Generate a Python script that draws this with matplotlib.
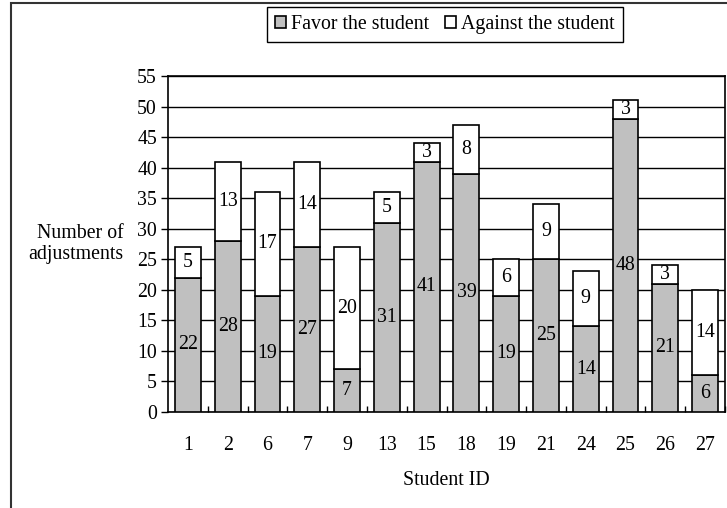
import numpy as np
import matplotlib.pyplot as plt
from matplotlib.patches import Rectangle

plt.rcParams["font.family"] = ["Liberation Serif", "DejaVu Serif"]

student_ids = ["1", "2", "6", "7", "9", "13", "15", "18", "19", "21", "24", "25", "26", "27"]
favor = [22, 28, 19, 27, 7, 31, 41, 39, 19, 25, 14, 48, 21, 6]
against = [5, 13, 17, 14, 20, 5, 3, 8, 6, 9, 9, 3, 3, 14]

FS = 14.3

fig = plt.figure(figsize=(7.27, 5.08), dpi=100)
ax = fig.add_axes([168 / 727, 1 - 412 / 508, (725 - 168) / 727, (412 - 76) / 508])

x = np.arange(len(student_ids))
w = 0.65
b1 = ax.bar(x, favor, width=w, color="#c0c0c0", edgecolor="black", lw=1.2,
            label="Favor the student", zorder=3)
b2 = ax.bar(x, against, width=w, bottom=favor, color="white", edgecolor="black",
            lw=1.2, label="Against the student", zorder=3)
ax.bar_label(b1, label_type="center", fontsize=FS, zorder=4)
ax.bar_label(b2, label_type="center", fontsize=FS, zorder=4)

ax.set_xlim(-0.5, len(student_ids) - 0.5)
ax.set_ylim(0, 55)
ax.set_yticks(np.arange(0, 56, 5))
ax.yaxis.grid(True, color="black", lw=1.0, zorder=0)
ax.set_axisbelow(True)

# ticks sit between the categories, labels centred under the bars
ax.set_xticks(x + 0.5, minor=False)
ax.set_xticklabels([])
ax.set_xticks(x, minor=True)
ax.set_xticklabels(student_ids, minor=True, fontsize=FS)
ax.tick_params(axis="x", which="major", direction="in", length=4, width=1)
ax.tick_params(axis="x", which="minor", length=0, pad=17)
ax.tick_params(axis="y", direction="out", length=5, width=1, labelsize=FS, pad=3)

for s in ax.spines.values():
    s.set_linewidth(1.2)

ax.set_xlabel("Student ID", fontsize=FS, labelpad=12)
ax.set_ylabel("Number of\nadjustments", fontsize=FS, rotation=0,
              ha="right", va="center", linespacing=1.1)
ax.yaxis.set_label_coords(-0.08, 0.5)

leg = fig.legend(loc="center", bbox_to_anchor=(445 / 727, 1 - 24.5 / 508), ncol=2,
                 fontsize=FS, frameon=True, fancybox=False, edgecolor="black",
                 framealpha=1, handlelength=0.55, handleheight=0.55,
                 handletextpad=0.25, columnspacing=0.8, borderpad=0.4,
                 borderaxespad=0)
leg.get_frame().set_linewidth(1.0)

# outer chart border (top and left edges visible)
fig.patches.append(Rectangle((11 / 727, -0.5), 2, 0.5 + 1 - 3 / 508,
                             transform=fig.transFigure, fill=False,
                             edgecolor="#333333", lw=1.5))

fig.savefig("out.png", dpi=100)
